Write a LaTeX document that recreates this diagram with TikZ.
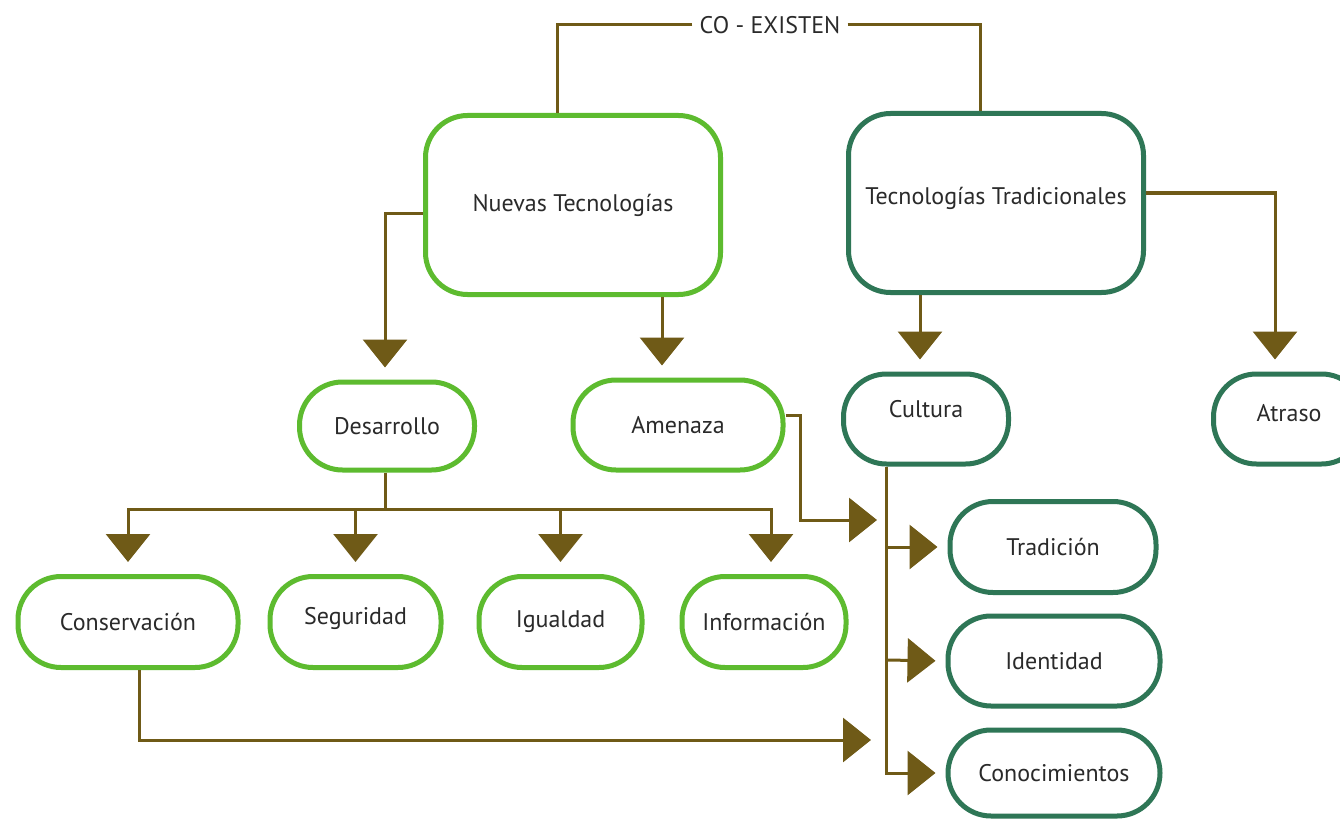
\documentclass[tikz,border=0pt]{standalone}
\usepackage{fontspec}
\setmainfont{PT Sans}
\usetikzlibrary{arrows.meta,calc}
\definecolor{lgreen}{HTML}{5DBB2F}
\definecolor{dgreen}{HTML}{2E7656}
\definecolor{brn}{HTML}{6F5A17}
\definecolor{txt}{HTML}{2A2A2A}
\begin{document}
\begin{tikzpicture}[x=1pt,y=-1pt,
  lbl/.style={font=\fontsize{24}{28}\selectfont, text=txt},
  big/.style={lbl, draw, rounded corners=42pt, line width=5pt, minimum width=295pt, minimum height=179pt, fill=white},
  pill/.style={lbl, draw, rounded corners=43pt, line width=5pt, minimum height=88pt, fill=white},
  lg/.style={draw=lgreen},
  dg/.style={draw=dgreen},
  plain/.style={draw=brn, line width=3pt},
  conn/.style={plain, -{Triangle[width=44pt,length=28pt]}, shorten >=12pt},
  connf/.style={plain, -{Triangle[width=44pt,length=28pt]}}]
\clip (0,0) rectangle (1340,821);
\fill[white] (0,0) rectangle (1340,821);
% main boxes
\node[big, lg] (nt) at (573,205) {Nuevas Tecnologías};
\node[big, dg, text depth=14pt] (tt) at (996,203) {Tecnologías Tradicionales};
\node[lbl, inner sep=7pt] (co) at (770,25) {CO - EXISTEN};
% second level
\node[pill, lg, minimum width=175pt] (des) at (387,426) {Desarrollo};
\node[pill, lg, minimum width=210pt, minimum height=90pt] (am) at (678,425) {Amenaza};
\node[pill, dg, minimum width=165pt, minimum height=90pt, text depth=20pt] (cu) at (926,419) {Cultura};
\node[pill, dg, minimum width=151pt, minimum height=90pt, text depth=13pt] (at) at (1289,419) {Atraso};
% third level
\node[pill, lg, minimum width=220pt, minimum height=91pt] (cons) at (128,622) {Conservación};
\node[pill, lg, minimum width=171pt, minimum height=91pt, text depth=12pt] (seg) at (355.5,622) {Seguridad};
\node[pill, lg, minimum width=163pt, minimum height=91pt] (ig) at (560.5,622) {Igualdad};
\node[pill, lg, minimum width=164pt, minimum height=91pt] (inf) at (764,622) {Información};
\node[pill, dg, minimum width=206pt, minimum height=91pt] (trad) at (1053,547) {Tradición};
\node[pill, dg, minimum width=212pt, minimum height=90pt] (ide) at (1054,661) {Identidad};
\node[pill, dg, minimum width=212pt, minimum height=86pt] (con) at (1054,773) {Conocimientos};
% helper coordinates
\coordinate (xL) at (557,0);
\coordinate (xR) at (980,0);
\coordinate (y213) at (0,213);
\coordinate (x662) at (662,0);
\coordinate (x920) at (920,0);
\coordinate (y193) at (0,193);
\coordinate (x1275) at (1275,0);
\coordinate (hub) at (385,509);
\coordinate (x771) at (771,0);
\coordinate (a1) at (800,415);
\coordinate (a2) at (800,520);
\coordinate (amT) at (877,520);
\coordinate (x886) at (886,0);
\coordinate (cb) at (886,547);
\coordinate (cc) at (886,660);
\coordinate (x139) at (139,0);
\coordinate (k1) at (139,740);
\coordinate (consT) at (871,740);
% co-existen bracket
\draw[plain] (co.west) -| (nt.north -| xL);
\draw[plain] (co.east) -| (tt.north -| xR);
% from Nuevas Tecnologias
\draw[conn] (nt.west |- y213) -| (des.north -| hub);
\draw[conn] (nt.south -| x662) -- (am.north -| x662);
% from Tecnologias Tradicionales
\draw[conn] (tt.south -| x920) -- (cu.north -| x920);
\draw[conn] (tt.east |- y193) -| (at.north -| x1275);
% from Desarrollo
\draw[plain] (des.south -| hub) -- (hub);
\draw[conn] (hub) -| (cons.north);
\draw[conn] (hub) -| (seg.north);
\draw[conn] (hub) -| (ig.north);
\draw[conn] (hub) -| (inf.north -| x771);
% from Amenaza
\draw[connf] (am.east |- a1) -- (a1) -- (a2) -- (amT);
% from Cultura
\draw[conn, shorten >=10pt] (cu.south -| x886) |- (con.west);
\draw[conn, shorten >=10pt] (cb) -- (trad.west |- cb);
\draw[conn, shorten >=10pt] (cc) -- (ide.west);
% from Conservacion
\draw[connf] (cons.south -| x139) -- (k1) -- (consT);
\end{tikzpicture}
\end{document}
